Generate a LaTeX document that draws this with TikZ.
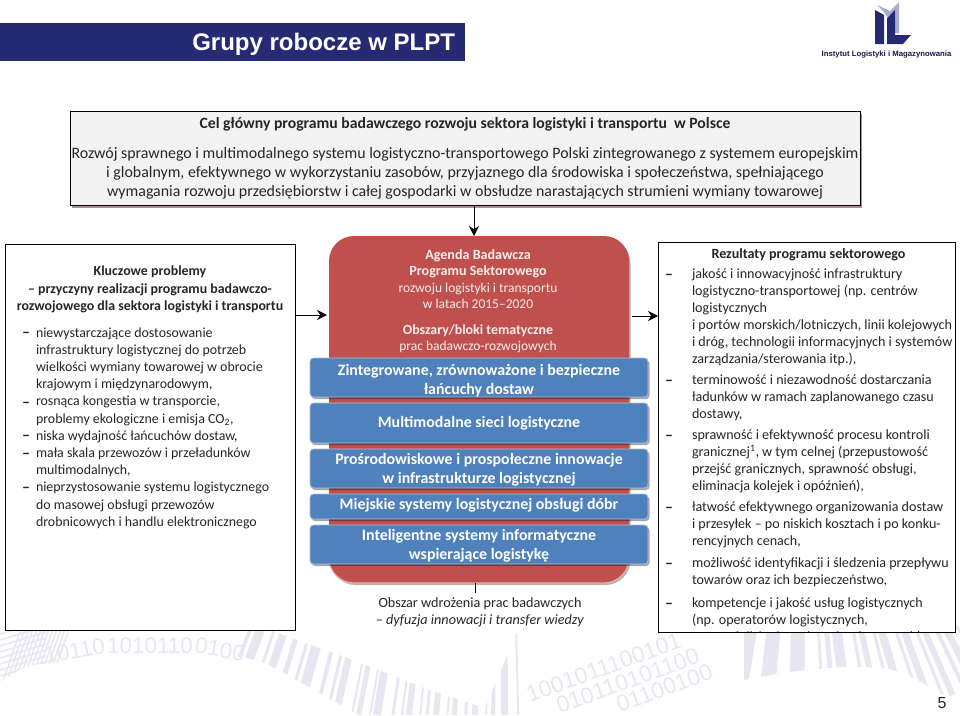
\documentclass[tikz,border=0pt]{standalone}
\usepackage{fontspec}
\setmainfont{Carlito}
\newfontfamily\arialfont{Liberation Sans}
\usetikzlibrary{arrows.meta,calc,shadows}
\definecolor{PlptNavy}{HTML}{262A73}
\definecolor{PlptLilac}{HTML}{A9ACCF}
\definecolor{PlptRed}{HTML}{C0504D}
\definecolor{PlptBlue}{HTML}{4F81BD}
\definecolor{PlptEdge}{HTML}{A9BFD8}
\definecolor{PlptInk}{HTML}{262626}
\definecolor{PlptPaper}{HTML}{F2F2F2}
\definecolor{PlptMark}{HTML}{E6E7F0}
\tikzset{
  every node/.style={inner sep=0pt, outer sep=0pt, text=PlptInk},
  leftbody/.style={font=\fontsize{13.9}{17.2}\selectfont, align=left, anchor=north west},
  rightbody/.style={font=\fontsize{14.1}{17}\selectfont, align=left, anchor=north west},
  bodyhead/.style={font=\fontsize{13.9}{17.5}\selectfont\bfseries, align=center},
  listdash/.style={font=\fontsize{16}{17}\selectfont\bfseries},
  goaltxt/.style={font=\fontsize{15.9}{19}\selectfont, align=center},
  paperbox/.style={draw=black, line width=1pt, fill=white},
  goalbox/.style={draw=black, line width=1pt, fill=PlptPaper, drop shadow={shadow xshift=1.5pt, shadow yshift=-2.5pt, fill=PlptRed!60!black, opacity=.55}},
  agendabox/.style={fill=PlptRed, rounded corners=25pt, minimum width=300pt, minimum height=347pt, drop shadow={shadow xshift=1.5pt, shadow yshift=-2pt, fill=black, opacity=.3}},
  agendarim/.style={draw=PlptRed!45!white, line width=1.2pt, rounded corners=25pt},
  themebar/.style={draw=PlptEdge, line width=.8pt, fill=PlptBlue, rounded corners=3.5pt, minimum width=338pt, drop shadow={shadow xshift=1.5pt, shadow yshift=-2pt, fill=black, opacity=.35}},
  themetxt/.style={text=white, font=\fontsize{15.9}{19}\selectfont\bfseries, align=center},
  agendatxt/.style={text=white!90!PlptRed, font=\fontsize{13.5}{16.5}\selectfont, align=center},
  link/.style={-{Stealth[length=10pt,width=10pt]}, draw=black, line width=1pt},
  markbar/.style={draw=PlptMark},
  markdigits/.style={text=PlptMark, font=\arialfont\fontsize{23}{24}\selectfont, anchor=south west, rotate=20},
  markwave/.style={text=PlptMark, font=\arialfont\fontsize{22.5}{24}\selectfont, anchor=south west},
}
\begin{document}
\begin{tikzpicture}[x=1pt,y=-1pt]
  \useasboundingbox (0,0) rectangle (960,715);
  % Background wave
  \begin{scope}
    \clip plot[smooth] coordinates {(0,682) (33,665) (100,662) (200,655) (255,660) (300,682) (360,716)}
      -- (520,716) -- (520,625) -- plot[smooth] coordinates {(485,708) (430,690) (358,662) (270,630)} -- (0,625) -- cycle;
    \foreach \x/\w in {252/4,262/9,276/3,286/8,300/5,312/3,322/10,338/4,348/3,356/7,370/2,376/5,386/2,392/8,406/3,414/2,420/6,430/2,436/3,444/6,454/2,460/5,470/3,478/6,488/2,494/4,504/7,516/2,524/4,532/3}{
      \pgfmathsetmacro{\lean}{-35*(500-\x)/250}
      \draw[markbar, line width=\w pt] (\x,625) -- ++(\lean,90);
    }
    \foreach \x in {0,4,...,50}
      \draw[markbar, line width=1.6pt] (\x,690) -- ++(22,-64);
    \foreach \y in {634,640,...,684}
      \draw[markbar, line width=1.6pt] (0,\y) -- ++(46,-14);
  \end{scope}
  \node[markwave, rotate=10] (markwavea) at (46,664) {10110};
  \node[markwave] (markwaveb) at (107,654) {1010110};
  \node[markwave, rotate=-10] (markwavec) at (194,653) {0100};
  \node[markdigits] (markone) at (530,703) {1001011100101};
  \node[markdigits] (marktwo) at (560,714) {010110101100};
  \node[markdigits] (markthree) at (620,713) {01100100};
  \begin{scope}
    \clip plot[smooth] coordinates {(744,680) (790,672) (850,667) (900,672) (960,705)} -- (960,625) -- (744,625) -- cycle;
    \foreach \x/\w in {752/12,768/2,774/14,792/2,798/14,818/3,826/5,836/10,852/3,860/6,872/3,880/8,894/3,902/7,914/3,922/6,934/4,944/7,956/3}{
      \pgfmathsetmacro{\lean}{(\x-800)*.25}
      \draw[markbar, line width=\w pt] (\x,625) -- ++(\lean,70);
    }
  \end{scope}
  % Title and logo
  \node[fill=PlptNavy, minimum width=465pt, minimum height=38pt, anchor=north west] (titlebar) at (0,23) {};
  \node[text=white, anchor=east, font=\arialfont\fontsize{24}{26}\selectfont\bfseries] (titletext) at (455,44.5) {Grupy robocze w PLPT};
  \fill[PlptLilac] (877,5) -- (890,11) -- (899,2) -- (899,33) -- (894,33) -- (894,13) -- (887,17) -- (884,12) -- cycle;
  \fill[PlptNavy] (875,10) -- (884,15) -- (884,44) -- (875,44) -- cycle;
  \fill[PlptNavy] (887,18) -- (895,10) -- (895,35) -- (911,35) -- (903,44) -- (887,44) -- cycle;
  \node[text=PlptNavy!60!black, font=\arialfont\fontsize{7.75}{9}\selectfont\bfseries] (logotext) at (886.5,55) {Instytut Logistyki i Magazynowania};
  \node[font=\arialfont\fontsize{16}{18}\selectfont] (pagenum) at (942,703) {5};
  % Main goal
  \node[goalbox, minimum width=790pt, minimum height=94pt, anchor=north west] (goal) at (70,111) {};
  \node[goaltxt, font=\fontsize{15.7}{19}\selectfont\bfseries] (goalhead) at (465,124) {Cel główny programu badawczego rozwoju sektora logistyki i transportu\ \ w Polsce};
  \node[goaltxt] (goalbody) at (465,173) {Rozwój sprawnego i multimodalnego systemu logistyczno-transportowego Polski zintegrowanego z systemem europejskim\\
    i globalnym, efektywnego w wykorzystaniu zasobów, przyjaznego dla środowiska i społeczeństwa, spełniającego\\
    wymagania rozwoju przedsiębiorstw i całej gospodarki w obsłudze narastających strumieni wymiany towarowej};
  % Key problems
  \node[paperbox, minimum width=290pt, minimum height=386pt, anchor=north west] (problems) at (5,244) {};
  \node[bodyhead] (problemshead) at (150,289.5) {Kluczowe problemy\\ -- przyczyny realizacji programu badawczo-\\ rozwojowego dla sektora logistyki i transportu};
  \node[leftbody] (problemslist) at (36,327.5) {niewystarczające dostosowanie\\
    infrastruktury logistycznej do potrzeb\\
    wielkości wymiany towarowej w obrocie\\
    krajowym i międzynarodowym,\\
    rosnąca kongestia w transporcie,\\
    problemy ekologiczne i emisja CO\textsubscript{2},\\
    niska wydajność łańcuchów dostaw,\\
    mała skala przewozów i przeładunków\\
    multimodalnych,\\
    nieprzystosowanie systemu logistycznego\\
    do masowej obsługi przewozów\\
    drobnicowych i handlu elektronicznego};
  \foreach \y/\name in {335/a,405/b,438/c,456/d,490/e}
    \node[listdash] (probdash\name) at (26,\y) {--};
  % Agenda with its themes
  \node[agendabox, anchor=north west] (agenda) at (329,236) {};
  \draw[agendarim] (329,563) -- (329,583) -- (629,583) -- (629,563);
  \node[agendatxt] (agendahead) at (478,279) {{\fontsize{14.1}{16.5}\selectfont\bfseries Agenda Badawcza}\\ {\fontsize{14.1}{16.5}\selectfont\bfseries Programu Sektorowego}\\ rozwoju logistyki i transportu\\ w latach 2015--2020};
  \node[agendatxt] (agendablocks) at (478,339) {{\fontsize{13.9}{16.5}\selectfont\bfseries Obszary/bloki tematyczne}\\ prac badawczo-rozwojowych};
  \node[themebar, minimum height=39pt, anchor=north] (themeone) at (479,358) {};
  \node[themebar, minimum height=40pt, anchor=north] (themetwo) at (479,403) {};
  \node[themebar, minimum height=39pt, anchor=north] (themethree) at (479,449) {};
  \node[themebar, minimum height=25pt, anchor=north] (themefour) at (479,494) {};
  \node[themebar, minimum height=39pt, anchor=north] (themefive) at (479,525) {};
  \node[themetxt] (themeonetxt) at (479,381) {Zintegrowane, zrównoważone i bezpieczne\\ łańcuchy dostaw};
  \node[themetxt] (themetwotxt) at (479,423) {Multimodalne sieci logistyczne};
  \node[themetxt] (themethreetxt) at (479,470) {Prośrodowiskowe i prospołeczne innowacje\\ w infrastrukturze logistycznej};
  \node[themetxt] (themefourtxt) at (479,505) {Miejskie systemy logistycznej obsługi dóbr};
  \node[themetxt] (themefivetxt) at (479,546) {Inteligentne systemy informatyczne\\ wspierające logistykę};
  \node[font=\fontsize{14.2}{17}\selectfont, align=center] (rollout) at (480,612.5) {Obszar wdrożenia prac badawczych\\ \textit{-- dyfuzja innowacji i transfer wiedzy}};
  % Results
  \node[paperbox, minimum width=297pt, minimum height=390pt, anchor=north west] (results) at (658,242) {};
  \node[bodyhead, font=\fontsize{14.1}{17}\selectfont\bfseries] (resultshead) at (808.5,255) {Rezultaty programu sektorowego};
  \begin{scope}
    \clip (659,243) rectangle (954,631);
    \node[rightbody] (resultsa) at (692,268.5) {jakość i innowacyjność infrastruktury\\
      logistyczno-transportowej (np. centrów\\
      logistycznych\\
      i portów morskich/lotniczych, linii kolejowych\\
      i dróg, technologii informacyjnych i systemów\\
      zarządzania/sterowania itp.),};
    \node[rightbody] (resultsb) at (692,374.5) {terminowość i niezawodność dostarczania\\
      ładunków w ramach zaplanowanego czasu\\
      dostawy,};
    \node[rightbody] (resultsc) at (692,429.5) {sprawność i efektywność procesu kontroli\\
      granicznej\textsuperscript{1}, w tym celnej (przepustowość\\
      przejść granicznych, sprawność obsługi,\\
      eliminacja kolejek i opóźnień),};
    \node[rightbody] (resultsd) at (692,501.5) {łatwość efektywnego organizowania dostaw\\
      i przesyłek -- po niskich kosztach i po konku-\\
      rencyjnych cenach,};
    \node[rightbody] (resultse) at (692,557.5) {możliwość identyfikacji i śledzenia przepływu\\
      towarów oraz ich bezpieczeństwo,};
    \node[rightbody] (resultsf) at (692,597.5) {kompetencje i jakość usług logistycznych\\
      (np. operatorów logistycznych,\\
      przewoźników i spedytorów drogowych)};
    \foreach \y/\name in {277/a,383/b,438/c,510/d,566/e,606/f}
      \node[listdash] (resdash\name) at (669,\y) {--};
  \end{scope}
  % Links
  \coordinate (topflow) at (474,236);
  \coordinate (inflow) at (327,315);
  \coordinate (outflow) at (658,316);
  \coordinate (rolloutlink) at (475,593);
  \draw[link] (goal.south -| topflow) -- (topflow);
  \draw[link] (problems.east |- inflow) -- (inflow);
  \draw[link] ($(agenda.east |- outflow)+(3,0)$) -- (outflow);
  \draw[draw=black, line width=.8pt] (agenda.south -| rolloutlink) -- (rolloutlink);
\end{tikzpicture}
\end{document}
